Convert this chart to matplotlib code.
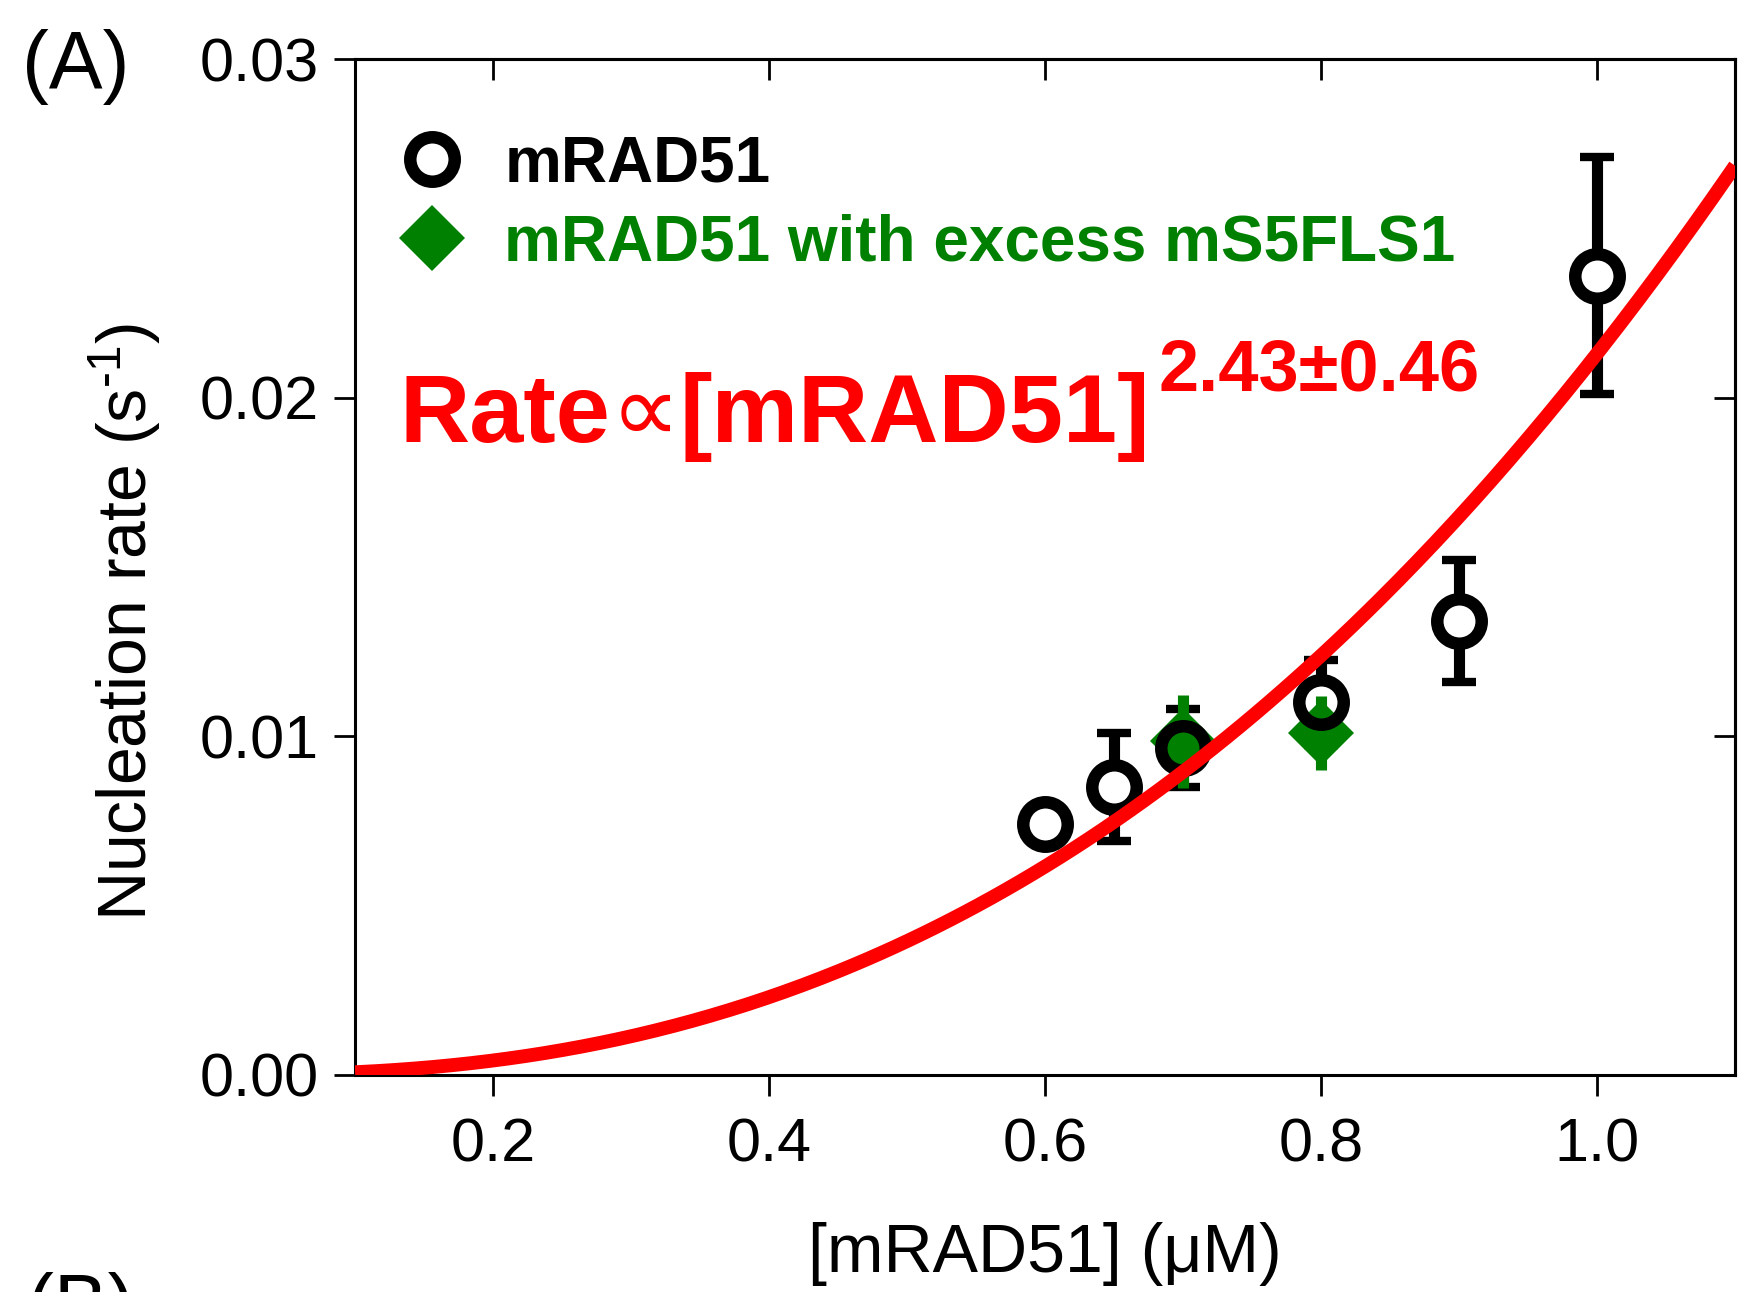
import numpy as np
import matplotlib
matplotlib.use("Agg")
import matplotlib.pyplot as plt
from matplotlib.lines import Line2D

plt.rcParams['font.family'] = ['Liberation Sans', 'DejaVu Sans']
plt.rcParams['mathtext.fontset'] = 'custom'
plt.rcParams['mathtext.rm'] = 'Liberation Sans'
plt.rcParams['mathtext.it'] = 'Liberation Sans:italic'
plt.rcParams['mathtext.bf'] = 'Liberation Sans:bold'

# nucleation rate vs mRAD51 concentration (uM, s^-1)
conc = [0.6, 0.65, 0.7, 0.8, 0.9, 1.0]
rate = [0.0074, 0.0085, 0.00965, 0.0110, 0.0134, 0.0236]
rate_err = [0.0003, 0.0016, 0.00116, 0.00125, 0.0018, 0.0035]

# same, with excess mS5FLS1
conc_fls1 = [0.7, 0.8]
rate_fls1 = [0.00985, 0.0101]
rate_fls1_err = [0.00137, 0.0011]

# power-law fit: rate = amp * conc ** expo
fit_amp = 0.0213
fit_expo = 2.43
fit_expo_err = 0.46

xticks = [0.2, 0.4, 0.6, 0.8, 1.0]
xticklabels = ['0.2', '0.4', '0.6', '0.8', '1.0']
yticks = [0.0, 0.01, 0.02, 0.03]
yticklabels = ['0.00', '0.01', '0.02', '0.03']

GREEN = '#008000'
RED = '#ff0000'

fig = plt.figure(figsize=(17.38, 12.92), dpi=100)
ax = fig.add_axes([0.2043, 0.168, 0.794, 0.7863])

# black error bars, then a white disc under each ring so bars stop at the marker
ax.errorbar(conc, rate, yerr=rate_err, fmt='none', ecolor='black',
            elinewidth=8, capsize=12, capthick=6, zorder=2)
ax.plot(conc, rate, ls='none', marker='o', ms=32, mfc='white', mec='none', zorder=2.5)

ax.errorbar(conc_fls1, rate_fls1, yerr=rate_fls1_err, fmt='D', color=GREEN,
            ms=34, mew=0, ecolor=GREEN, elinewidth=8, capsize=12, capthick=6,
            zorder=3)

ax.plot(conc, rate, ls='none', marker='o', ms=32, mfc='none', mec='black',
        mew=9, zorder=4)

xfit = np.linspace(0.1, 1.1, 300)
ax.plot(xfit, fit_amp * xfit ** fit_expo, color=RED, lw=10, zorder=5,
        solid_capstyle='butt')

ax.set_xlim(0.1, 1.1)
ax.set_ylim(0.0, 0.03)
ax.set_xticks(xticks)
ax.set_xticklabels(xticklabels)
ax.set_yticks(yticks)
ax.set_yticklabels(yticklabels)
ax.tick_params(axis='both', direction='out', length=15, width=2, labelsize=44)
ax.tick_params(axis='x', pad=16)
ax.tick_params(axis='y', pad=11)
for sp in ax.spines.values():
    sp.set_linewidth(2.2)

# mirrored ticks on top and right, pointing inward
top = ax.secondary_xaxis('top')
top.set_xticks(xticks)
top.tick_params(direction='in', length=15, width=2, labeltop=False)
top.spines['top'].set_linewidth(2.2)
right = ax.secondary_yaxis('right')
right.set_yticks(yticks)
right.tick_params(direction='in', length=15, width=2, labelright=False)
right.spines['right'].set_linewidth(2.2)

ax.set_xlabel('[mRAD51] (\u03bcM)', fontsize=49, labelpad=34)
ax.set_ylabel('Nucleation rate (s$^{\u2010\\mathregular{1}}$)', fontsize=49)
ax.yaxis.set_label_coords(-0.139, 0.446)

handles = [
    Line2D([], [], ls='none', marker='o', ms=32, mfc='none', mec='black', mew=9),
    Line2D([], [], ls='none', marker='D', ms=34, mfc=GREEN, mec=GREEN, mew=0),
]
ax.legend(handles, ['mRAD51', 'mRAD51 with excess mS5FLS1'],
          loc='upper left', bbox_to_anchor=(0.028, 0.926), frameon=False,
          borderpad=0, borderaxespad=0, handlelength=1.2, handletextpad=0.53,
          labelspacing=0.3, labelcolor=['black', GREEN],
          prop={'weight': 'bold', 'size': 46})

# fit label: bold words with a plain proportional sign between them
t_rate = ax.text(0.032, 0.623, 'Rate', transform=ax.transAxes, color=RED,
                 fontsize=70, fontweight='bold', ha='left', va='baseline')
t_prop = ax.annotate('\u221d', xy=(1, 0), xycoords=t_rate, color=RED,
                     fontsize=70, family='DejaVu Sans', fontweight='normal',
                     ha='left', va='bottom')
ax.annotate('[mRAD51]', xy=(1, 0), xycoords=t_prop, color=RED, fontsize=70,
            fontweight='bold', ha='left', va='bottom')
ax.text(0.582, 0.674, f'{fit_expo:.2f}\u00b1{fit_expo_err:.2f}',
        transform=ax.transAxes, color=RED, fontsize=52, fontweight='bold',
        ha='left', va='baseline')

fig.text(22 / 1738, 1 - 88 / 1292, '(A)', fontsize=58, va='baseline')
fig.text(27 / 1738, 1 - 1331 / 1292, '(B)', fontsize=58, va='baseline')

fig.savefig('out.png', dpi=100)
